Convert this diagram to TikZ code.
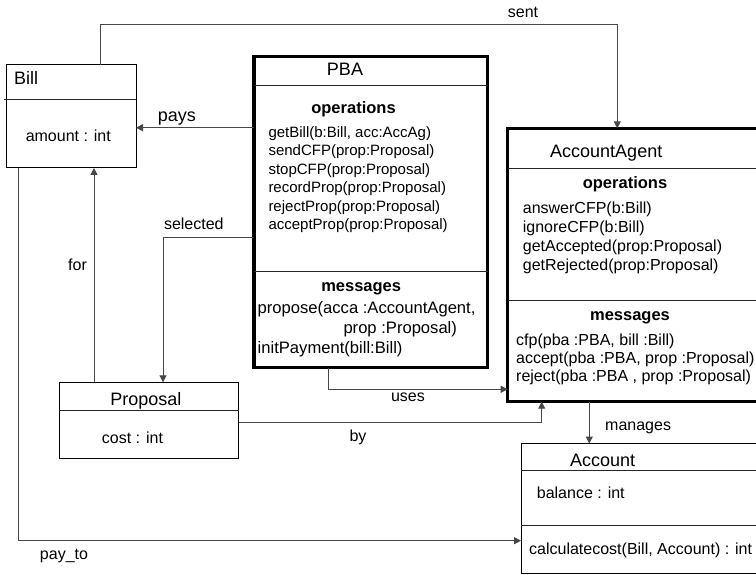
\documentclass[tikz,border=0pt]{standalone}
\usepackage{fontspec}
\setmainfont{Liberation Sans}
\usetikzlibrary{arrows.meta,calc}
\tikzset{
  box/.style={draw=black, line width=1pt, anchor=north west, inner sep=0pt, outer sep=0pt},
  heavybox/.style={box, line width=3.3pt},
  rule/.style={draw=black!85, line width=1pt},
  wire/.style={draw=black!72, line width=1pt},
  link/.style={wire, -{Triangle[length=7pt,width=7pt]}},
  ttl/.style={font=\fontsize{18}{22}\selectfont, inner sep=0pt, anchor=base},
  txt/.style={font=\fontsize{16}{19}\selectfont, inner sep=0pt, anchor=base west},
  optxt/.style={font=\fontsize{15}{18}\selectfont, inner sep=0pt, anchor=base west},
  msgtxt/.style={font=\fontsize{16.6}{19}\selectfont, inner sep=0pt, anchor=base west},
  hdr/.style={font=\fontsize{16.5}{19}\selectfont\bfseries, inner sep=0pt, anchor=base},
  lbl/.style={font=\fontsize{16}{19}\selectfont, inner sep=0pt, anchor=base},
}
\begin{document}
\begin{tikzpicture}[x=1pt,y=-1pt]
\useasboundingbox (0,0) rectangle (756,575);
\clip (0,0) rectangle (756,575);

% ---------- class boxes ----------
\node[box, minimum width=130pt, minimum height=103pt] (bill) at (6,65) {};
\node[heavybox, minimum width=233.5pt, minimum height=310.8pt] (pba) at (254,56.7) {};
\node[heavybox, minimum width=290pt, minimum height=273.4pt] (aa) at (507.7,128.3) {};
\node[box, minimum width=179.4pt, minimum height=76pt] (prop) at (59.3,382.3) {};
\node[box, minimum width=280pt, minimum height=129.8pt] (acc) at (521,443.5) {};

% compartment rules
\draw[rule] (4,100) -- (136,100);
\draw[rule] (254,85.7) -- (487.5,85.7);
\draw[rule] (254,271.7) -- (487.5,271.7);
\draw[rule] (507.7,168.3) -- (800,168.3);
\draw[rule] (507.7,300.7) -- (800,300.7);
\draw[rule] (59.3,410) -- (238.7,410);
\draw[rule] (521,470.7) -- (800,470.7);
\draw[rule] (521,525.7) -- (800,525.7);

% ---------- Bill ----------
\node[ttl, anchor=base west] (billT) at (14,85) {Bill};
\node[lbl] (billA) at (68.3,141.7) {amount : int};

% ---------- PBA ----------
\node[ttl] (pbaT) at (345,76) {PBA};
\node[hdr] (pbaOps) at (353.5,113.3) {operations};
\node[optxt] (pbaO1) at (268.3,137.3) {getBill(b:Bill, acc:AccAg)};
\node[optxt] (pbaO2) at (268.3,155.8) {sendCFP(prop:Proposal)};
\node[optxt] (pbaO3) at (268.3,174.3) {stopCFP(prop:Proposal)};
\node[optxt] (pbaO4) at (268.3,192.8) {recordProp(prop:Proposal)};
\node[optxt] (pbaO5) at (268.3,211.3) {rejectProp(prop:Proposal)};
\node[optxt] (pbaO6) at (268.3,229.8) {acceptProp(prop:Proposal)};
\node[hdr] (pbaMsg) at (361.2,291) {messages};
\node[msgtxt] (pbaM1) at (257.5,313.3) {propose(acca :AccountAgent,};
\node[msgtxt] (pbaM2) at (343.3,333.3) {prop :Proposal)};
\node[msgtxt] (pbaM3) at (257.5,353.3) {initPayment(bill:Bill)};

% ---------- AccountAgent ----------
\node[ttl, anchor=base west] (aaT) at (550,157.3) {AccountAgent};
\node[hdr] (aaOps) at (625,188.3) {operations};
\node[txt] (aaO1) at (522.7,213.3) {answerCFP(b:Bill)};
\node[txt] (aaO2) at (522.7,232.3) {ignoreCFP(b:Bill)};
\node[txt] (aaO3) at (522.7,251.5) {getAccepted(prop:Proposal)};
\node[txt] (aaO4) at (522.7,270.7) {getRejected(prop:Proposal)};
\node[hdr] (aaMsg) at (630,320) {messages};
\node[txt] (aaM1) at (516,345) {cfp(pba :PBA, bill :Bill)};
\node[txt] (aaM2) at (516,363.3) {accept(pba :PBA, prop :Proposal)};
\node[txt] (aaM3) at (516,381.7) {reject(pba :PBA , prop :Proposal)};

% ---------- Proposal ----------
\node[ttl] (propT) at (145.8,405) {Proposal};
\node[lbl] (propA) at (132.5,443.3) {cost : int};

% ---------- Account ----------
\node[ttl, anchor=base west] (accT) at (570,466) {Account};
\node[txt] (accA) at (536.7,498.3) {balance : int};
\node[txt] (accO) at (529,554) {calculatecost(Bill, Account) : int};

% ---------- connectors ----------
% sent
\coordinate (sentTop) at (617.3,24.5);
\path ([xshift=94.7pt]bill.north west) coordinate (sentS);
\draw[link] (sentS) |- (sentTop) -- (sentTop |- aa.north);
\node[lbl] (sentL) at (523,17.3) {sent};

% pays
\path ([yshift=-71pt]pba.north west) coordinate (paysS);
\draw[link] (paysS) -- (paysS -| bill.east);
\node[font=\fontsize{18}{22}\selectfont, inner sep=0pt, anchor=base] (paysL) at (176.8,121.7) {pays};

% selected
\path ([yshift=-181pt]pba.north west) coordinate (selS);
\path ([xshift=103.7pt]prop.north west) coordinate (selE);
\draw[link] (selS) -| (selE);
\node[lbl] (selL) at (193.8,230) {selected};

% for
\path ([xshift=34.7pt]prop.north west) coordinate (forS);
\draw[link] (forS) -- (forS |- bill.south);
\node[lbl] (forL) at (77.5,270.7) {for};

% pay_to
\path ([xshift=12.3pt]bill.south west) coordinate (payS);
\path ([yshift=-97.2pt]acc.north west) coordinate (payE);
\draw[link] (payS) |- (payE);
\node[lbl] (payL) at (64,559) {pay\_to};

% uses
\path ([xshift=74.3pt]pba.south west) coordinate (usesS);
\coordinate (usesY) at (0,389.3);
\draw[link] (usesS) |- (aa.west |- usesY);
\node[lbl] (usesL) at (408,401.7) {uses};

% by
\coordinate (byY) at (0,422.7);
\coordinate (byX) at (541.7,0);
\draw[link] (prop.east |- byY) -| (byX |- aa.south);
\node[lbl] (byL) at (358,441.7) {by};

% manages
\coordinate (manX) at (589.3,0);
\draw[link] (manX |- aa.south) -- (manX |- acc.north);
\node[lbl, anchor=base west] (manL) at (605,430) {manages};
\end{tikzpicture}
\end{document}
